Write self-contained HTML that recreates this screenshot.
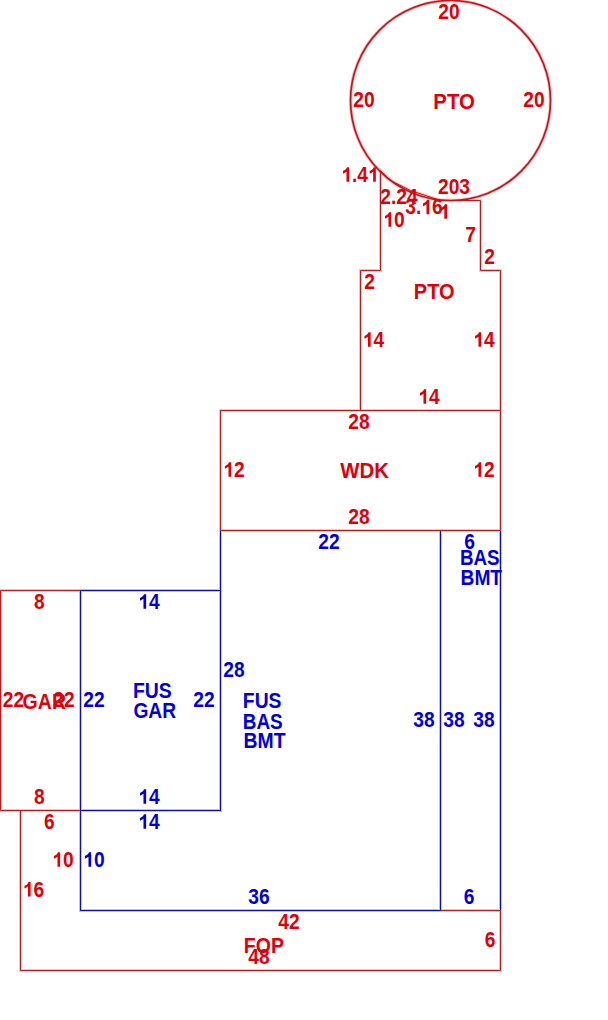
<!DOCTYPE html><html><head><meta charset="utf-8"><style>html,body{margin:0;padding:0;background:#fff;width:608px;height:1020px;overflow:hidden}svg{display:block}text{font-family:"Liberation Sans",sans-serif;font-weight:bold;text-anchor:middle}</style></head><body>
<svg width="608" height="1020" viewBox="0 0 608 1020">
<rect width="608" height="1020" fill="#fff"/>
<g fill="none" stroke-width="3" transform="translate(0.5,0.5)">
<path d="M440,530 L500,530 L500,910 L440,910 Z" stroke="#bcbcff"/>
<path d="M20,810 L80,810 L80,910 L500,910 L500,970 L20,970 Z" stroke="#ffbcbc"/>
<path d="M220,530 L440,530 L440,910 L80,910 L80,810 L220,810 Z" stroke="#bcbcff"/>
<path d="M220,410 L500,410 L500,530 L220,530 Z" stroke="#ffbcbc"/>
<path d="M0,590 L80,590 L80,810 L0,810 Z" stroke="#ffbcbc"/>
<path d="M80,590 L220,590 L220,810 L80,810 Z" stroke="#bcbcff"/>
<path d="M380,170 L380,270 L360,270 L360,410 L500,410 L500,270 L480,270 L480,200 L450,200 L440,200 L410,190 L390,180 Z" stroke="#ffbcbc"/>
<circle cx="450" cy="100" r="100" stroke="#ffbcbc" stroke-width="3.4"/>
</g>
<g fill="none" stroke-width="1" transform="translate(0.5,0.5)">
<path d="M440,530 L500,530 L500,910 L440,910 Z" stroke="#1010a8"/>
<path d="M20,810 L80,810 L80,910 L500,910 L500,970 L20,970 Z" stroke="#b81e1e"/>
<path d="M220,530 L440,530 L440,910 L80,910 L80,810 L220,810 Z" stroke="#1010a8"/>
<path d="M220,410 L500,410 L500,530 L220,530 Z" stroke="#b81e1e"/>
<path d="M0,590 L80,590 L80,810 L0,810 Z" stroke="#b81e1e"/>
<path d="M80,590 L220,590 L220,810 L80,810 Z" stroke="#1010a8"/>
<path d="M380,170 L380,270 L360,270 L360,410 L500,410 L500,270 L480,270 L480,200 L450,200 L440,200 L410,190 L390,180 Z" stroke="#b81e1e"/>
<circle cx="450" cy="100" r="100" stroke="#bc1820" stroke-width="1.7"/>
</g>
<g font-size="20">
<text transform="translate(449,18.76) scale(0.96,1.06)" fill="#e20008">20</text>
<text transform="translate(364,106.76) scale(0.96,1.06)" fill="#e20008">20</text>
<text transform="translate(454.1,108.76) scale(1.02,1.06)" fill="#e20008">PTO</text>
<text transform="translate(534,106.76) scale(0.96,1.06)" fill="#e20008">20</text>
<path transform="translate(341.32,181.76) scale(0.009375,-0.009953)" d="M835,0 L550,0 L550,1010 Q400,890 175,815 L175,1075 Q330,1125 445,1220 Q555,1315 605,1466 L835,1466 Z" fill="#e20008"/>
<text transform="translate(351.99,181.76) scale(0.96,1.06)" fill="#e20008" style="text-anchor:start">.</text>
<text transform="translate(357.33,181.76) scale(0.96,1.06)" fill="#e20008" style="text-anchor:start">4</text>
<path transform="translate(368.01,181.76) scale(0.009375,-0.009953)" d="M835,0 L550,0 L550,1010 Q400,890 175,815 L175,1075 Q330,1125 445,1220 Q555,1315 605,1466 L835,1466 Z" fill="#e20008"/>
<text transform="translate(399,204.26) scale(0.96,1.06)" fill="#e20008">2.24</text>
<text transform="translate(448.8,193.76) scale(0.96,1.06)" fill="#e20008">20</text>
<text transform="translate(464.6,193.76) scale(0.96,1.06)" fill="#e20008">3</text>
<text transform="translate(405.32,214.26) scale(0.96,1.06)" fill="#e20008" style="text-anchor:start">3</text>
<text transform="translate(415.99,214.26) scale(0.96,1.06)" fill="#e20008" style="text-anchor:start">.</text>
<path transform="translate(421.33,214.26) scale(0.009375,-0.009953)" d="M835,0 L550,0 L550,1010 Q400,890 175,815 L175,1075 Q330,1125 445,1220 Q555,1315 605,1466 L835,1466 Z" fill="#e20008"/>
<text transform="translate(432.01,214.26) scale(0.96,1.06)" fill="#e20008" style="text-anchor:start">6</text>
<path transform="translate(439.16,218.76) scale(0.009375,-0.009953)" d="M835,0 L550,0 L550,1010 Q400,890 175,815 L175,1075 Q330,1125 445,1220 Q555,1315 605,1466 L835,1466 Z" fill="#e20008"/>
<path transform="translate(383.32,226.76) scale(0.009375,-0.009953)" d="M835,0 L550,0 L550,1010 Q400,890 175,815 L175,1075 Q330,1125 445,1220 Q555,1315 605,1466 L835,1466 Z" fill="#e20008"/>
<text transform="translate(394.00,226.76) scale(0.96,1.06)" fill="#e20008" style="text-anchor:start">0</text>
<text transform="translate(470.5,241.76) scale(0.96,1.06)" fill="#e20008">7</text>
<text transform="translate(489.5,263.76) scale(0.96,1.06)" fill="#e20008">2</text>
<text transform="translate(369.5,288.76) scale(0.96,1.06)" fill="#e20008">2</text>
<text transform="translate(434.2,299.26) scale(1.0,1.06)" fill="#e20008">PTO</text>
<path transform="translate(362.82,346.76) scale(0.009375,-0.009953)" d="M835,0 L550,0 L550,1010 Q400,890 175,815 L175,1075 Q330,1125 445,1220 Q555,1315 605,1466 L835,1466 Z" fill="#e20008"/>
<text transform="translate(373.50,346.76) scale(0.96,1.06)" fill="#e20008" style="text-anchor:start">4</text>
<path transform="translate(473.32,346.76) scale(0.009375,-0.009953)" d="M835,0 L550,0 L550,1010 Q400,890 175,815 L175,1075 Q330,1125 445,1220 Q555,1315 605,1466 L835,1466 Z" fill="#e20008"/>
<text transform="translate(484.00,346.76) scale(0.96,1.06)" fill="#e20008" style="text-anchor:start">4</text>
<path transform="translate(418.32,403.76) scale(0.009375,-0.009953)" d="M835,0 L550,0 L550,1010 Q400,890 175,815 L175,1075 Q330,1125 445,1220 Q555,1315 605,1466 L835,1466 Z" fill="#e20008"/>
<text transform="translate(429.00,403.76) scale(0.96,1.06)" fill="#e20008" style="text-anchor:start">4</text>
<text transform="translate(359,428.76) scale(0.96,1.06)" fill="#e20008">28</text>
<path transform="translate(223.32,476.76) scale(0.009375,-0.009953)" d="M835,0 L550,0 L550,1010 Q400,890 175,815 L175,1075 Q330,1125 445,1220 Q555,1315 605,1466 L835,1466 Z" fill="#e20008"/>
<text transform="translate(234.00,476.76) scale(0.96,1.06)" fill="#e20008" style="text-anchor:start">2</text>
<text transform="translate(364.7,477.76) scale(1.02,1.06)" fill="#e20008">WDK</text>
<path transform="translate(473.32,476.76) scale(0.009375,-0.009953)" d="M835,0 L550,0 L550,1010 Q400,890 175,815 L175,1075 Q330,1125 445,1220 Q555,1315 605,1466 L835,1466 Z" fill="#e20008"/>
<text transform="translate(484.00,476.76) scale(0.96,1.06)" fill="#e20008" style="text-anchor:start">2</text>
<text transform="translate(359,523.76) scale(0.96,1.06)" fill="#e20008">28</text>
<text transform="translate(39.3,608.76) scale(0.96,1.06)" fill="#e20008">8</text>
<text transform="translate(13.5,706.76) scale(0.96,1.06)" fill="#e20008">22</text>
<text transform="translate(44.3,708.76) scale(0.98,1.06)" fill="#e20008">GAR</text>
<text transform="translate(64,706.76) scale(0.96,1.06)" fill="#e20008">22</text>
<text transform="translate(39.3,803.76) scale(0.96,1.06)" fill="#e20008">8</text>
<text transform="translate(49.3,828.76) scale(0.96,1.06)" fill="#e20008">6</text>
<path transform="translate(52.32,866.76) scale(0.009375,-0.009953)" d="M835,0 L550,0 L550,1010 Q400,890 175,815 L175,1075 Q330,1125 445,1220 Q555,1315 605,1466 L835,1466 Z" fill="#e20008"/>
<text transform="translate(63.00,866.76) scale(0.96,1.06)" fill="#e20008" style="text-anchor:start">0</text>
<path transform="translate(22.82,896.56) scale(0.009375,-0.009953)" d="M835,0 L550,0 L550,1010 Q400,890 175,815 L175,1075 Q330,1125 445,1220 Q555,1315 605,1466 L835,1466 Z" fill="#e20008"/>
<text transform="translate(33.50,896.56) scale(0.96,1.06)" fill="#e20008" style="text-anchor:start">6</text>
<text transform="translate(289,928.76) scale(0.96,1.06)" fill="#e20008">42</text>
<text transform="translate(263.9,953.06) scale(0.975,1.06)" fill="#e20008">FOP</text>
<text transform="translate(259,963.76) scale(0.96,1.06)" fill="#e20008">48</text>
<text transform="translate(490,946.76) scale(0.96,1.06)" fill="#e20008">6</text>
<text transform="translate(329,548.76) scale(0.96,1.06)" fill="#0000dc">22</text>
<text transform="translate(469.5,548.76) scale(0.96,1.06)" fill="#0000dc">6</text>
<text transform="translate(479.8,564.76) scale(0.94,1.06)" fill="#0000dc">BAS</text>
<text transform="translate(481.3,585.26) scale(0.96,1.06)" fill="#0000dc">BMT</text>
<path transform="translate(138.32,608.76) scale(0.009375,-0.009953)" d="M835,0 L550,0 L550,1010 Q400,890 175,815 L175,1075 Q330,1125 445,1220 Q555,1315 605,1466 L835,1466 Z" fill="#0000dc"/>
<text transform="translate(149.00,608.76) scale(0.96,1.06)" fill="#0000dc" style="text-anchor:start">4</text>
<text transform="translate(234,676.76) scale(0.96,1.06)" fill="#0000dc">28</text>
<text transform="translate(94,706.76) scale(0.96,1.06)" fill="#0000dc">22</text>
<text transform="translate(152.3,698.06) scale(0.97,1.06)" fill="#0000dc">FUS</text>
<text transform="translate(154.75,718.26) scale(0.96,1.06)" fill="#0000dc">GAR</text>
<text transform="translate(204,706.76) scale(0.96,1.06)" fill="#0000dc">22</text>
<text transform="translate(262.15,708.16) scale(0.965,1.06)" fill="#0000dc">FUS</text>
<text transform="translate(262.75,728.56) scale(0.945,1.06)" fill="#0000dc">BAS</text>
<text transform="translate(264.55,748.16) scale(0.97,1.06)" fill="#0000dc">BMT</text>
<text transform="translate(424,726.76) scale(0.96,1.06)" fill="#0000dc">38</text>
<text transform="translate(454,726.76) scale(0.96,1.06)" fill="#0000dc">38</text>
<text transform="translate(484,726.76) scale(0.96,1.06)" fill="#0000dc">38</text>
<path transform="translate(138.32,803.76) scale(0.009375,-0.009953)" d="M835,0 L550,0 L550,1010 Q400,890 175,815 L175,1075 Q330,1125 445,1220 Q555,1315 605,1466 L835,1466 Z" fill="#0000dc"/>
<text transform="translate(149.00,803.76) scale(0.96,1.06)" fill="#0000dc" style="text-anchor:start">4</text>
<path transform="translate(138.32,828.76) scale(0.009375,-0.009953)" d="M835,0 L550,0 L550,1010 Q400,890 175,815 L175,1075 Q330,1125 445,1220 Q555,1315 605,1466 L835,1466 Z" fill="#0000dc"/>
<text transform="translate(149.00,828.76) scale(0.96,1.06)" fill="#0000dc" style="text-anchor:start">4</text>
<path transform="translate(83.32,866.76) scale(0.009375,-0.009953)" d="M835,0 L550,0 L550,1010 Q400,890 175,815 L175,1075 Q330,1125 445,1220 Q555,1315 605,1466 L835,1466 Z" fill="#0000dc"/>
<text transform="translate(94.00,866.76) scale(0.96,1.06)" fill="#0000dc" style="text-anchor:start">0</text>
<text transform="translate(259,903.76) scale(0.96,1.06)" fill="#0000dc">36</text>
<text transform="translate(469,903.76) scale(0.96,1.06)" fill="#0000dc">6</text>
</g></svg></body></html>
